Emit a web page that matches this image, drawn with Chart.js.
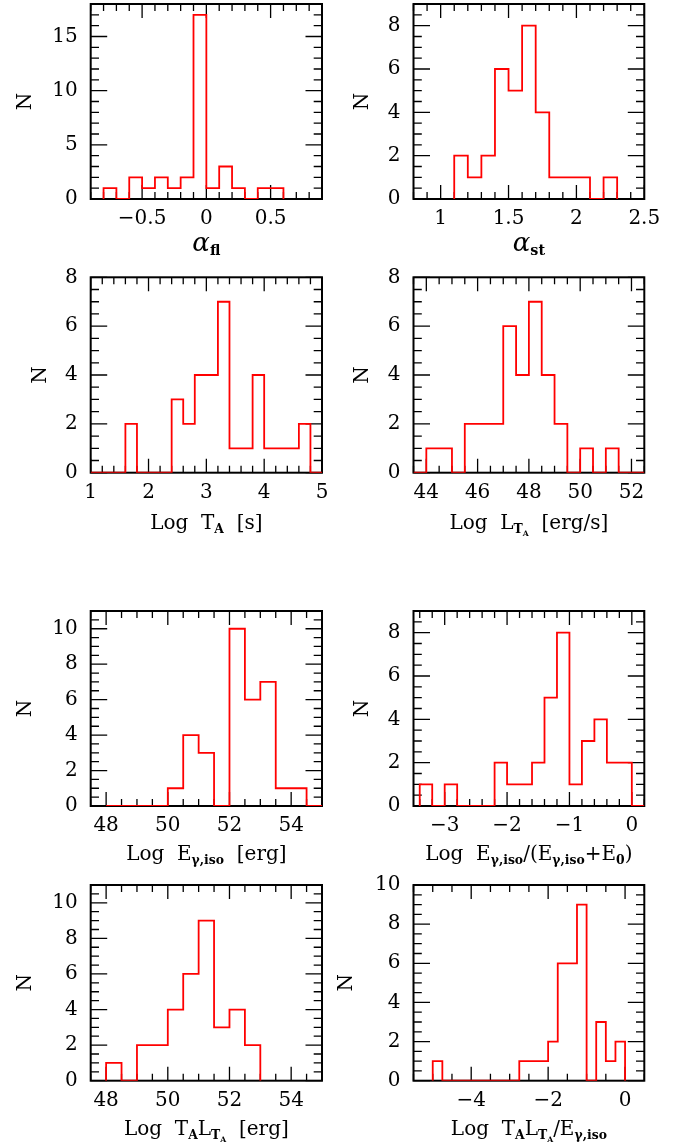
<!DOCTYPE html>
<html>
<head>
<meta charset="utf-8">
<script src="https://cdn.jsdelivr.net/npm/chart.js@4.4.0/dist/chart.umd.min.js"></script>
<style>
  body { margin: 0; background: #fff; }
  #page { position: relative; width: 682px; height: 1148px; overflow: hidden; }
  canvas { position: absolute; }
  .xt {
    position: absolute;
    font-family: 'DejaVu Serif', serif;
    font-size: 20px;
    line-height: 20px;
    white-space: nowrap;
    transform: translateX(-50%);
    color: #000;
  }
  .xt sub { font-size: 0.62em; font-weight: bold; vertical-align: baseline; position: relative; top: 0.35em; }
  .xt .gr { font-size: 1.3em; font-style: italic; }
  .xt .gs { font-size: 0.72em; top: 0.3em; }
</style>
</head>
<body>
<div id="page"></div>
<script>
  // ---- data: bin edges and counts ----
  // alpha_fl
  const afEdges = [-0.8, -0.7, -0.6, -0.5, -0.4, -0.3, -0.2, -0.1, 0, 0.1, 0.2, 0.3, 0.4, 0.5, 0.6];
  const afCounts = [1, 0, 2, 1, 2, 1, 2, 17, 1, 3, 1, 0, 1, 1];
  const afTicks = [-0.5, 0, 0.5];

  // alpha_st
  const asEdges = [1.1, 1.2, 1.3, 1.4, 1.5, 1.6, 1.7, 1.8, 1.9, 2.0, 2.1, 2.2, 2.3];
  const asCounts = [2, 1, 2, 6, 5, 8, 4, 1, 1, 1, 0, 1];
  const asTicks = [1, 1.5, 2, 2.5];

  // Log T_A
  const taEdges = [1.0, 1.2, 1.4, 1.6, 1.8, 2.0, 2.2, 2.4, 2.6, 2.8, 3.0, 3.2, 3.4, 3.6, 3.8, 4.0, 4.2, 4.4, 4.6, 4.8, 5.0];
  const taCounts = [0, 0, 0, 2, 0, 0, 0, 3, 2, 4, 4, 7, 1, 1, 4, 1, 1, 1, 2, 0];
  const taTicks = [1, 2, 3, 4, 5];

  // Log L_TA
  const lEdges = [43.5, 44, 44.5, 45, 45.5, 46, 46.5, 47, 47.5, 48, 48.5, 49, 49.5, 50, 50.5, 51, 51.5, 52, 52.5];
  const lCounts = [0, 1, 1, 0, 2, 2, 2, 6, 4, 7, 4, 2, 0, 1, 0, 1, 0, 0];
  const lTicks = [44, 46, 48, 50, 52];

  // Log E_gamma,iso
  const eEdges = [48, 48.5, 49, 49.5, 50, 50.5, 51, 51.5, 52, 52.5, 53, 53.5, 54, 54.5, 55];
  const eCounts = [0, 0, 0, 0, 1, 4, 3, 0, 10, 6, 7, 1, 1, 0];
  const eTicks = [48, 50, 52, 54];

  // Log E_gamma,iso / (E_gamma,iso + E_0)
  const rEdges = [-3.4, -3.2, -3.0, -2.8, -2.6, -2.4, -2.2, -2.0, -1.8, -1.6, -1.4, -1.2, -1.0, -0.8, -0.6, -0.4, -0.2, 0, 0.2];
  const rCounts = [1, 0, 1, 0, 0, 0, 2, 1, 1, 2, 5, 8, 1, 3, 4, 2, 2, 0];
  const rTicks = [-3, -2, -1, 0];

  // Log T_A L_TA
  const tlEdges = [48, 48.5, 49, 49.5, 50, 50.5, 51, 51.5, 52, 52.5, 53];
  const tlCounts = [1, 0, 2, 2, 4, 6, 9, 3, 4, 2];
  const tlTicks = [48, 50, 52, 54];

  // Log T_A L_TA / E_gamma,iso
  const fEdges = [-5, -4.75, -4.5, -4.25, -4, -3.75, -3.5, -3.25, -3, -2.75, -2.5, -2.25, -2, -1.75, -1.5, -1.25, -1, -0.75, -0.5, -0.25, 0];
  const fCounts = [1, 0, 0, 0, 0, 0, 0, 0, 0, 1, 1, 1, 2, 6, 6, 9, 0, 3, 1, 2];
  const fTicks = [-4, -2, 0];

  const nTicks8 = [0, 2, 4, 6, 8];
  const nTicks10 = [0, 2, 4, 6, 8, 10];
  const nTicks15 = [0, 5, 10, 15];

  // ---- layout of the 8 panels (plot box in page px) ----
  const COLS = [
    { canvasLeft: 0, canvasRight: 341, left: 90.7, right: 322 },
    { canvasLeft: 330, canvasRight: 682, left: 413.5, right: 644.3 }
  ];
  const ROWS = [
    { top: 4, bottom: 199 },
    { top: 277.3, bottom: 472.7 },
    { top: 610.7, bottom: 806 },
    { top: 884.7, bottom: 1080.7 }
  ];

  const panels = [
    { col: 0, row: 0, edges: afEdges, counts: afCounts, xMin: -0.9, xMax: 0.9, xMajor: afTicks, xMinor: 0.1,
      yMax: 18, yMajor: nTicks15, yMinor: 1, nX: 25.3, tGap: 50,
      title: '<span class="gr">α</span><sub class="gs">fl</sub>' },
    { col: 1, row: 0, edges: asEdges, counts: asCounts, xMin: 0.8, xMax: 2.5, xMajor: asTicks, xMinor: 0.1,
      yMax: 9, yMajor: nTicks8, yMinor: 0.5, nX: 363, tGap: 50,
      title: '<span class="gr">α</span><sub class="gs">st</sub>' },
    { col: 0, row: 1, edges: taEdges, counts: taCounts, xMin: 1, xMax: 5, xMajor: taTicks, xMinor: 0.2,
      yMax: 8, yMajor: nTicks8, yMinor: 0.5, nX: 40.3, tGap: 56,
      title: 'Log&nbsp; T<sub>A</sub>&nbsp; [s]' },
    { col: 1, row: 1, edges: lEdges, counts: lCounts, xMin: 43.5, xMax: 52.5, xMajor: lTicks, xMinor: 0.5,
      yMax: 8, yMajor: nTicks8, yMinor: 0.5, nX: 363, tGap: 56,
      title: 'Log&nbsp; L<sub>T<sub>A</sub></sub>&nbsp; [erg/s]' },
    { col: 0, row: 2, edges: eEdges, counts: eCounts, xMin: 47.5, xMax: 55, xMajor: eTicks, xMinor: 0.5,
      yMax: 11, yMajor: nTicks10, yMinor: 0.5, nX: 25.3, tGap: 54,
      title: 'Log&nbsp; E<sub>γ,iso</sub>&nbsp; [erg]' },
    { col: 1, row: 2, edges: rEdges, counts: rCounts, xMin: -3.5, xMax: 0.2, xMajor: rTicks, xMinor: 0.2,
      yMax: 9, yMajor: nTicks8, yMinor: 0.5, nX: 363, tGap: 54,
      title: 'Log&nbsp; E<sub>γ,iso</sub>/(E<sub>γ,iso</sub>+E<sub>0</sub>)' },
    { col: 0, row: 3, edges: tlEdges, counts: tlCounts, xMin: 47.5, xMax: 55, xMajor: tlTicks, xMinor: 0.5,
      yMax: 11, yMajor: nTicks10, yMinor: 0.5, nX: 25.3, tGap: 54,
      title: 'Log&nbsp; T<sub>A</sub>L<sub>T<sub>A</sub></sub>&nbsp; [erg]' },
    { col: 1, row: 3, edges: fEdges, counts: fCounts, xMin: -5.5, xMax: 0.5, xMajor: fTicks, xMinor: 0.5,
      yMax: 10, yMajor: nTicks10, yMinor: 0.5, nX: 347, tGap: 54,
      title: 'Log&nbsp; T<sub>A</sub>L<sub>T<sub>A</sub></sub>/E<sub>γ,iso</sub>' }
  ];

  const FONT = { family: "'DejaVu Serif', serif", size: 20 };

  function fmt(v) {
    const r = Math.round(v * 1000) / 1000;
    return r < 0 ? '\u2212' + String(-r) : String(r);
  }

  // histogram outline: (edge, count) pairs, closed to zero at both ends
  function stepPoints(edges, counts) {
    const pts = [{ x: edges[0], y: 0 }];
    for (let i = 0; i < counts.length; i++) pts.push({ x: edges[i], y: counts[i] });
    pts.push({ x: edges[edges.length - 1], y: 0 });
    return pts;
  }

  function isMajor(list, v) {
    return list.some(m => Math.abs(m - v) < 1e-6);
  }

  // box frame + inward major/minor ticks on all four sides
  const framePlugin = {
    id: 'frame',
    beforeDatasetsDraw(chart, args, opts) {
      const { ctx, chartArea: a, scales: { x, y } } = chart;
      ctx.save();
      ctx.strokeStyle = '#000';
      ctx.lineWidth = 1.3;
      ctx.beginPath();
      let n0 = Math.ceil(x.min / opts.xMinor - 1e-6), n1 = Math.floor(x.max / opts.xMinor + 1e-6);
      for (let i = n0; i <= n1; i++) {
        const v = i * opts.xMinor;
        const len = isMajor(opts.xMajor, v) ? 14 : 7;
        const px = x.getPixelForValue(v);
        ctx.moveTo(px, a.bottom); ctx.lineTo(px, a.bottom - len);
        ctx.moveTo(px, a.top); ctx.lineTo(px, a.top + len);
      }
      n0 = Math.ceil(y.min / opts.yMinor - 1e-6); n1 = Math.floor(y.max / opts.yMinor + 1e-6);
      for (let i = n0; i <= n1; i++) {
        const v = i * opts.yMinor;
        const len = isMajor(opts.yMajor, v) ? 16.5 : 8.3;
        const py = y.getPixelForValue(v);
        ctx.moveTo(a.left, py); ctx.lineTo(a.left + len, py);
        ctx.moveTo(a.right, py); ctx.lineTo(a.right - len, py);
      }
      ctx.stroke();
      ctx.lineWidth = 2;
      ctx.strokeRect(a.left, a.top, a.right - a.left, a.bottom - a.top);
      ctx.restore();
    }
  };

  const page = document.getElementById('page');
  const PAD_TOP = 25;
  const CANVAS_H = 270;

  panels.forEach(p => {
    const c = COLS[p.col];
    const r = ROWS[p.row];
    const canvasTop = Math.round(r.top) - PAD_TOP;
    const padTop = r.top - canvasTop;
    const xAxisH = CANVAS_H - padTop - (r.bottom - r.top);
    const yAxisW = c.left - c.canvasLeft;

    const cv = document.createElement('canvas');
    cv.width = c.canvasRight - c.canvasLeft;
    cv.height = CANVAS_H;
    cv.style.left = c.canvasLeft + 'px';
    cv.style.top = canvasTop + 'px';
    page.appendChild(cv);

    new Chart(cv, {
      type: 'line',
      data: {
        datasets: [{
          data: stepPoints(p.edges, p.counts),
          stepped: true,
          borderColor: '#ff0000',
          borderWidth: 1.8,
          pointRadius: 0,
          fill: false
        }]
      },
      options: {
        responsive: false,
        animation: false,
        events: [],
        layout: { padding: { top: padTop, right: c.canvasRight - c.right, left: 0, bottom: 0 } },
        plugins: {
          legend: { display: false },
          tooltip: { enabled: false },
          frame: { xMinor: p.xMinor, xMajor: p.xMajor, yMinor: p.yMinor, yMajor: p.yMajor }
        },
        scales: {
          x: {
            type: 'linear',
            min: p.xMin,
            max: p.xMax,
            afterBuildTicks: s => { s.ticks = p.xMajor.map(v => ({ value: v })); },
            afterFit: s => { s.height = xAxisH; },
            grid: { display: false, drawTicks: false },
            border: { display: false },
            ticks: { font: FONT, color: '#000', padding: 8, autoSkip: false, maxRotation: 0, callback: v => fmt(v) }
          },
          y: {
            type: 'linear',
            min: 0,
            max: p.yMax,
            afterBuildTicks: s => { s.ticks = p.yMajor.map(v => ({ value: v })); },
            afterFit: s => { s.width = yAxisW; },
            grid: { display: false, drawTicks: false },
            border: { display: false },
            ticks: { font: FONT, color: '#000', padding: 13, autoSkip: false, callback: v => fmt(v) },
            title: {
              display: true,
              text: 'N',
              color: '#000',
              font: FONT,
              padding: { top: p.nX - c.canvasLeft - 12, bottom: 0 }
            }
          }
        }
      },
      plugins: [framePlugin]
    });

    // axis title with subscripts
    const t = document.createElement('div');
    t.className = 'xt';
    t.innerHTML = p.title;
    t.style.left = ((c.left + c.right) / 2) + 'px';
    t.style.top = (r.bottom + p.tGap - 17) + 'px';
    page.appendChild(t);
  });
</script>
</body>
</html>
